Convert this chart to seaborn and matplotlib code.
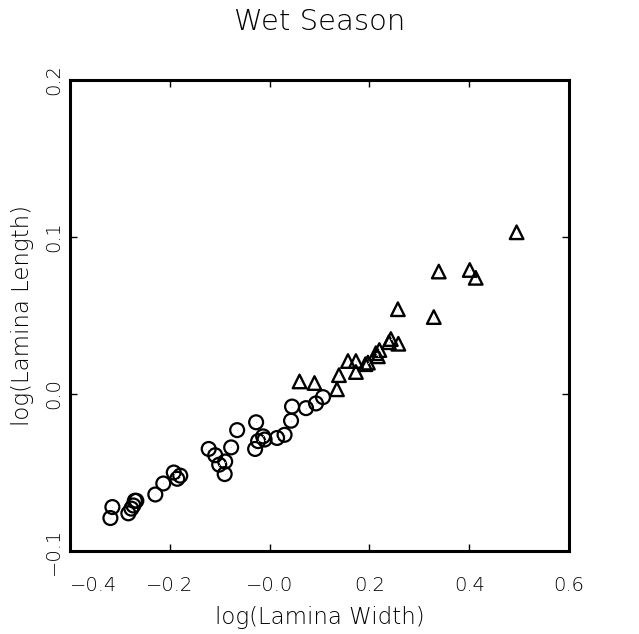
import matplotlib
matplotlib.use("Agg")
import matplotlib.pyplot as plt
import seaborn as sns

# circles (lower group)
circle_x = [-0.319, -0.315, -0.283, -0.277, -0.273, -0.270, -0.267, -0.229, -0.213,
            -0.192, -0.185, -0.179, -0.122, -0.109, -0.101, -0.089, -0.090, -0.077,
            -0.065, -0.027, -0.029, -0.023, -0.013, -0.010, 0.015, 0.030, 0.043,
            0.045, 0.073, 0.093, 0.107]
circle_y = [-0.079, -0.072, -0.076, -0.073, -0.071, -0.068, -0.068, -0.064, -0.057,
            -0.050, -0.054, -0.052, -0.035, -0.039, -0.045, -0.043, -0.051, -0.034,
            -0.023, -0.018, -0.035, -0.030, -0.027, -0.029, -0.028, -0.026, -0.017,
            -0.008, -0.009, -0.006, -0.002]

# triangles (upper group)
tri_x = [0.495, 0.339, 0.401, 0.413, 0.257, 0.329, 0.243, 0.258, 0.239, 0.220, 0.213,
         0.217, 0.197, 0.192, 0.173, 0.157, 0.173, 0.139, 0.135, 0.090, 0.060]
tri_y = [0.103, 0.078, 0.079, 0.074, 0.054, 0.049, 0.035, 0.032, 0.033, 0.028, 0.026,
         0.024, 0.020, 0.019, 0.021, 0.021, 0.014, 0.012, 0.003, 0.007, 0.008]

x_ticks = [-0.4, -0.2, 0.0, 0.2, 0.4, 0.6]
x_ticklabels = ["\u22120.4", "\u22120.2", "\u22120.0", "0.2", "0.4", "0.6"]
y_ticks = [-0.1, 0.0, 0.1, 0.2]
y_ticklabels = ["\u22120.1", "0.0", "0.1", "0.2"]

sns.set_style("ticks")
plt.rcParams["font.family"] = ["DejaVu Sans"]
plt.rcParams["font.weight"] = "light"
for key in ["text.color", "axes.labelcolor", "xtick.color", "ytick.color"]:
    plt.rcParams[key] = "black"

fig = plt.figure(figsize=(6.39, 6.34), dpi=100)
ax = fig.add_axes([0.1095, 0.1309, 0.781, 0.7429])

sns.scatterplot(x=circle_x, y=circle_y, marker="o", s=100, facecolors="none",
                edgecolor="black", linewidth=1.6, ax=ax, zorder=3)
sns.scatterplot(x=tri_x, y=tri_y, marker="^", s=95, facecolors="none",
                edgecolor="black", linewidth=1.7, ax=ax, zorder=3)
# tiny centre dots
sns.scatterplot(x=circle_x + tri_x, y=circle_y + tri_y, marker=".", s=2,
                color="black", linewidth=0, ax=ax, zorder=4)

ax.set_xlim(-0.4, 0.6)
ax.set_ylim(-0.1, 0.2)
ax.set_xticks(x_ticks)
ax.set_xticklabels(x_ticklabels)
ax.set_yticks(y_ticks)
ax.set_yticklabels(y_ticklabels, rotation=90, va="center")
ax.xaxis.get_majorticklabels()[0].set_horizontalalignment("left")

ax.tick_params(direction="in", length=5, width=1, top=True, right=True,
               labelsize=14)
ax.tick_params(axis="x", pad=18)
ax.tick_params(axis="y", pad=5)
for sp in ax.spines.values():
    sp.set_linewidth(2.2)
    sp.set_color("black")

ax.set_xlabel("log(Lamina Width)", fontsize=16.5, fontweight="light", labelpad=8)
ax.set_ylabel("log(Lamina Length)", fontsize=16.5, fontweight="light", labelpad=7)
ax.set_title("Wet Season", fontsize=21, fontweight="light", pad=36)

fig.savefig("out.png", dpi=100)
